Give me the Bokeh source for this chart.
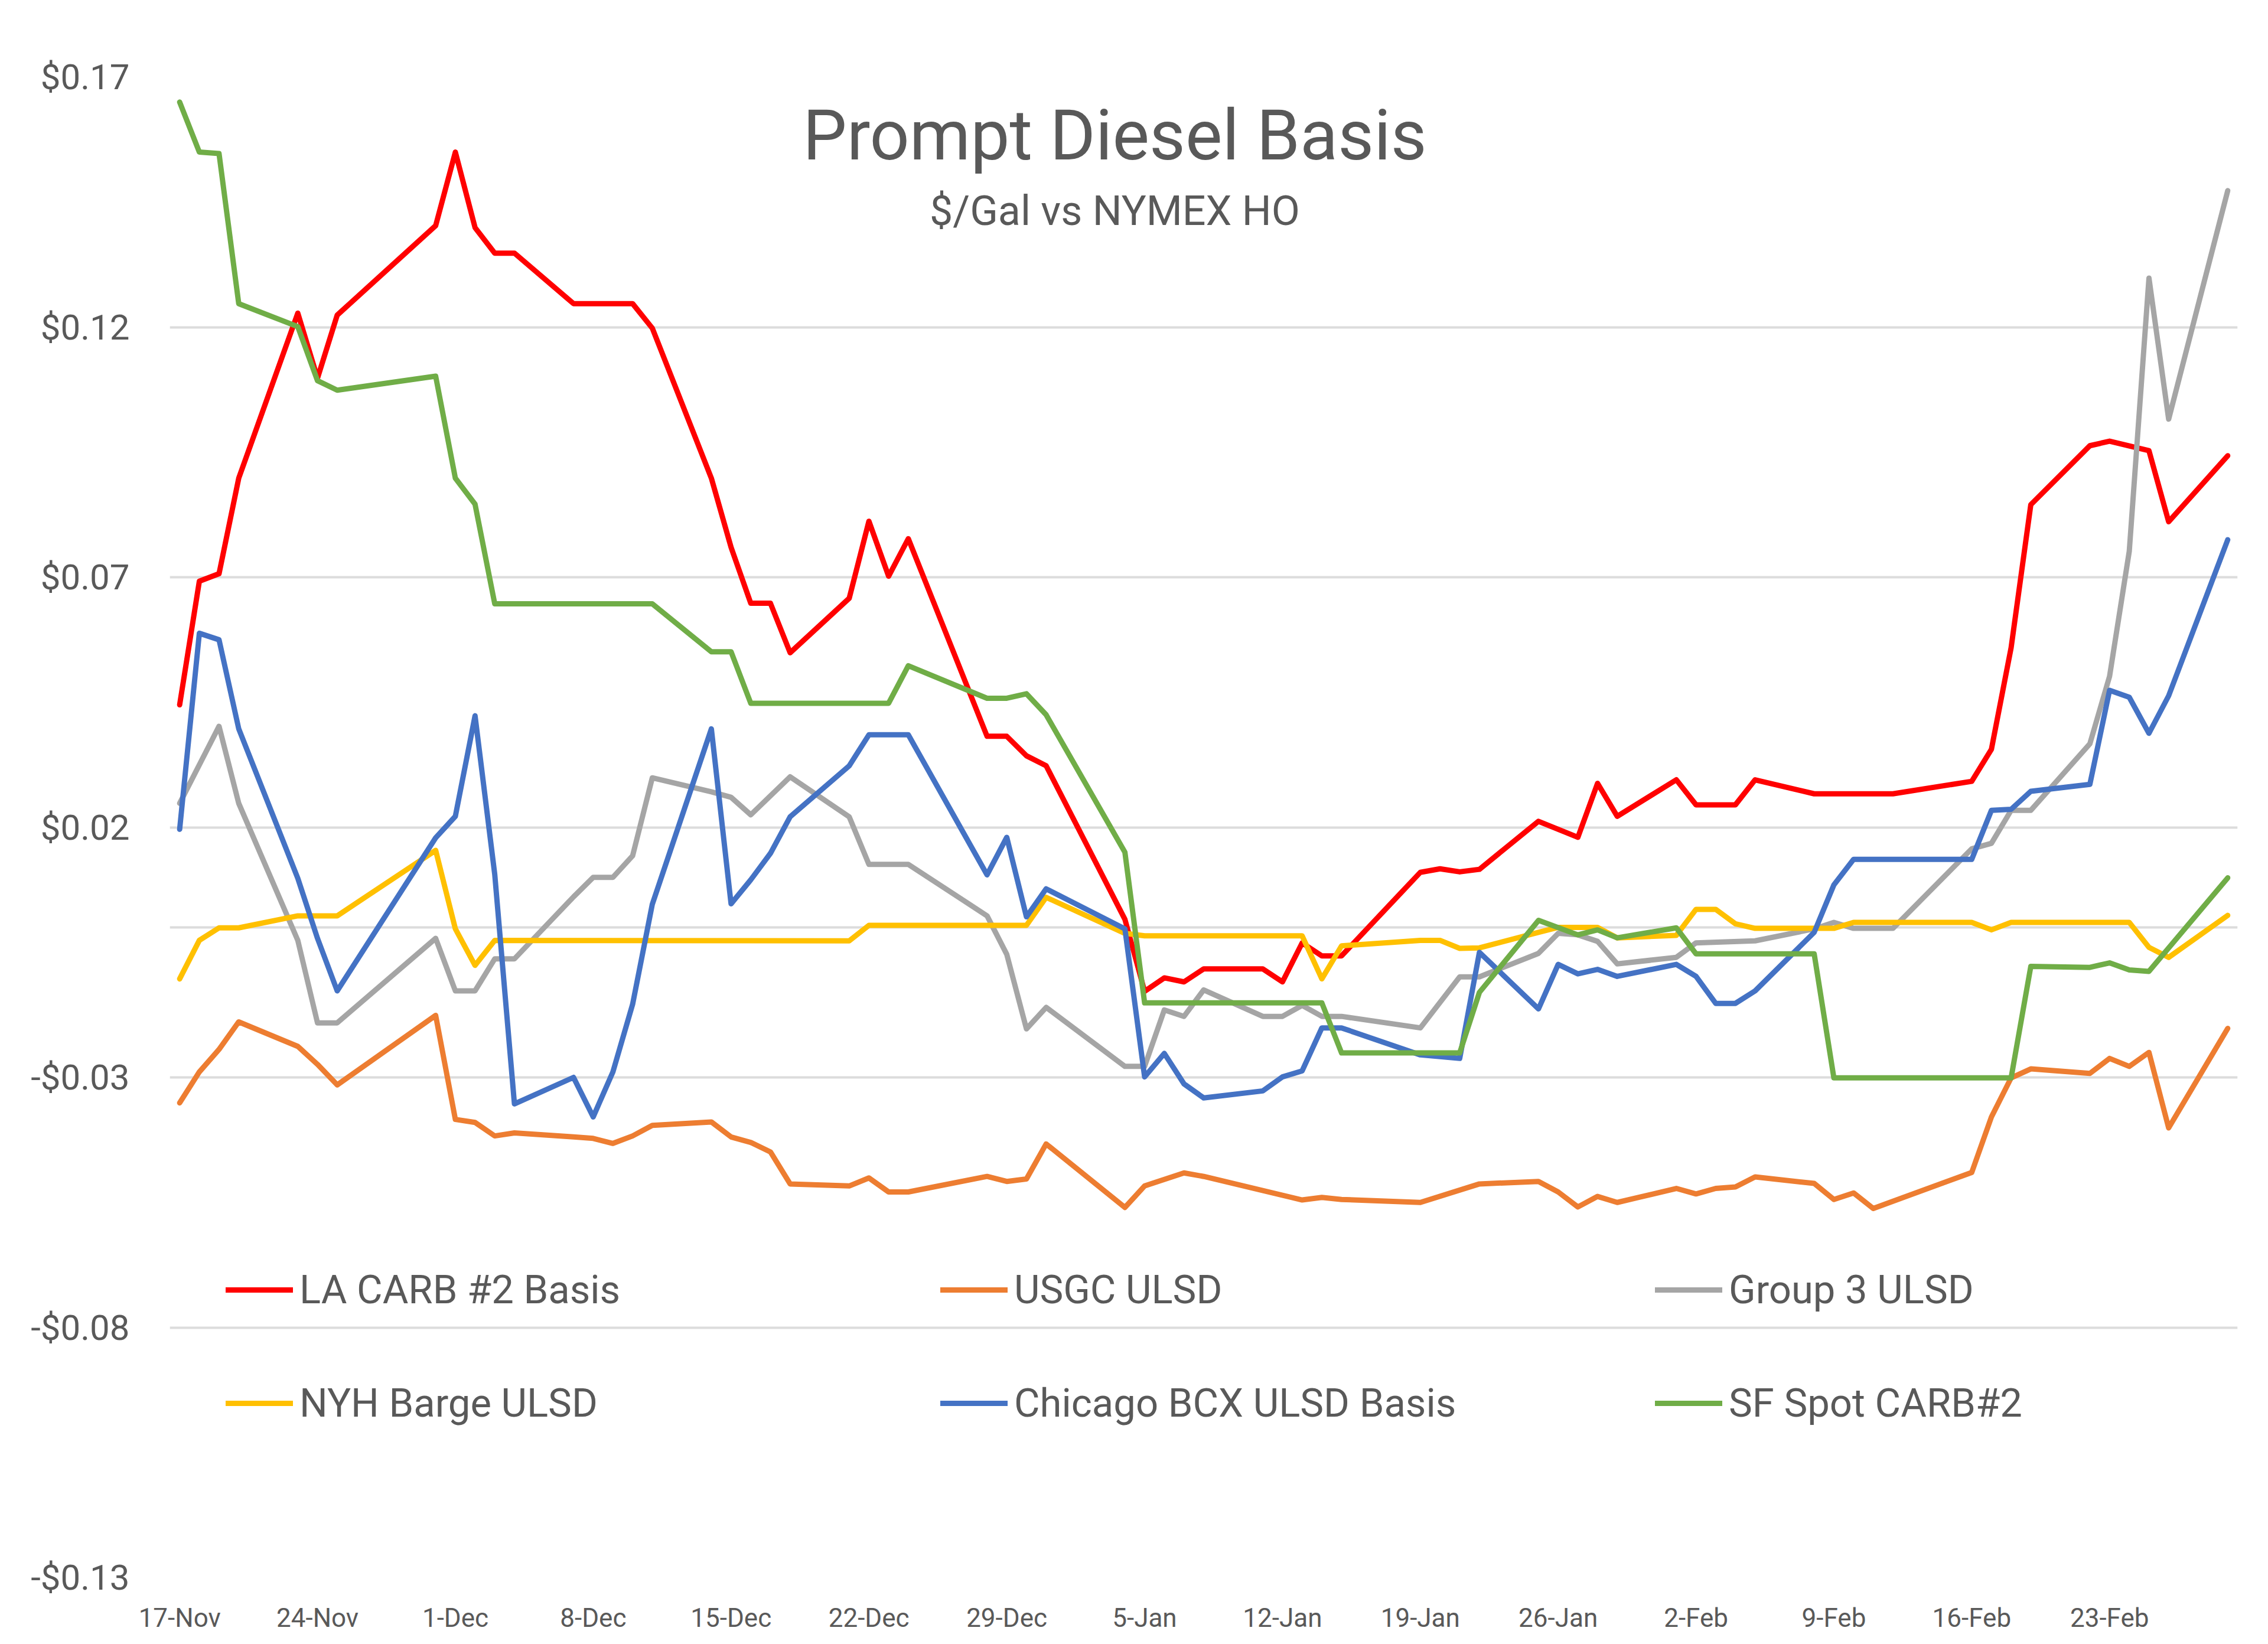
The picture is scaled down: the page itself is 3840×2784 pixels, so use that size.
import pandas as pd
from bokeh.plotting import figure
from bokeh.models import Range1d, FixedTicker, Legend, LegendItem, Label, Span
from bokeh.embed import file_html
from bokeh.resources import INLINE

# ---------------- data ----------------
start_date = "2020-11-17"

x_tick_dates = ["2020-11-17", "2020-11-24", "2020-12-01", "2020-12-08", "2020-12-15",
                "2020-12-22", "2020-12-29", "2021-01-05", "2021-01-12", "2021-01-19",
                "2021-01-26", "2021-02-02", "2021-02-09", "2021-02-16", "2021-02-23"]
x_tick_labels = ["17-Nov", "24-Nov", "1-Dec", "8-Dec", "15-Dec", "22-Dec", "29-Dec",
                 "5-Jan", "12-Jan", "19-Jan", "26-Jan", "2-Feb", "9-Feb", "16-Feb", "23-Feb"]
x_first_date = "2020-11-17"
x_last_date = "2021-03-01"

y_tick_values = [-0.13, -0.08, -0.03, 0.02, 0.07, 0.12, 0.17]
y_tick_labels = ["-$0.13", "-$0.08", "-$0.03", "$0.02", "$0.07", "$0.12", "$0.17"]

title_text = "Prompt Diesel Basis"
subtitle_text = "$/Gal vs NYMEX HO"

series_names = ["LA CARB #2 Basis", "USGC ULSD", "Group 3 ULSD",
                "NYH Barge ULSD", "Chicago BCX ULSD Basis", "SF Spot CARB#2"]
series_colors = ["#FF0000", "#ED7D31", "#A5A5A5", "#FFC000", "#4472C4", "#70AD47"]

la_carb = [
    ("2020-11-17", 0.0445), ("2020-11-18", 0.0692), ("2020-11-19", 0.0707), ("2020-11-20", 0.0898),
    ("2020-11-23", 0.1228), ("2020-11-24", 0.1098), ("2020-11-25", 0.1224), ("2020-11-30", 0.1403),
    ("2020-12-01", 0.1550), ("2020-12-02", 0.1399), ("2020-12-03", 0.1348), ("2020-12-04", 0.1348),
    ("2020-12-07", 0.1247), ("2020-12-10", 0.1247), ("2020-12-11", 0.1198), ("2020-12-14", 0.0898),
    ("2020-12-15", 0.0760), ("2020-12-16", 0.0648), ("2020-12-17", 0.0648), ("2020-12-18", 0.0549),
    ("2020-12-21", 0.0658), ("2020-12-22", 0.0812), ("2020-12-23", 0.0702), ("2020-12-24", 0.0777),
    ("2020-12-28", 0.0382), ("2020-12-29", 0.0382), ("2020-12-30", 0.0343), ("2020-12-31", 0.0323),
    ("2021-01-04", 0.0016), ("2021-01-05", -0.0128), ("2021-01-06", -0.0101), ("2021-01-07", -0.0109),
    ("2021-01-08", -0.0083), ("2021-01-11", -0.0083), ("2021-01-12", -0.0109), ("2021-01-13", -0.0031),
    ("2021-01-14", -0.0057), ("2021-01-15", -0.0057), ("2021-01-19", 0.0110), ("2021-01-20", 0.0117),
    ("2021-01-21", 0.0111), ("2021-01-22", 0.0116), ("2021-01-25", 0.0212), ("2021-01-27", 0.0180),
    ("2021-01-28", 0.0288), ("2021-01-29", 0.0222), ("2021-02-01", 0.0295), ("2021-02-02", 0.0245),
    ("2021-02-04", 0.0245), ("2021-02-05", 0.0295), ("2021-02-08", 0.0267), ("2021-02-12", 0.0267),
    ("2021-02-16", 0.0292), ("2021-02-17", 0.0356), ("2021-02-18", 0.0559), ("2021-02-19", 0.0845),
    ("2021-02-22", 0.0963), ("2021-02-23", 0.0972), ("2021-02-25", 0.0953), ("2021-02-26", 0.0811),
    ("2021-03-01", 0.0943),
]

usgc_ulsd = [
    ("2020-11-17", -0.0351), ("2020-11-18", -0.0289), ("2020-11-19", -0.0244), ("2020-11-20", -0.0189),
    ("2020-11-23", -0.0238), ("2020-11-24", -0.0274), ("2020-11-25", -0.0315), ("2020-11-30", -0.0176),
    ("2020-12-01", -0.0384), ("2020-12-02", -0.0390), ("2020-12-03", -0.0417), ("2020-12-04", -0.0411),
    ("2020-12-07", -0.0419), ("2020-12-08", -0.0422), ("2020-12-09", -0.0432), ("2020-12-10", -0.0417),
    ("2020-12-11", -0.0396), ("2020-12-14", -0.0389), ("2020-12-15", -0.0419), ("2020-12-16", -0.0430),
    ("2020-12-17", -0.0449), ("2020-12-18", -0.0513), ("2020-12-21", -0.0517), ("2020-12-22", -0.0501),
    ("2020-12-23", -0.0529), ("2020-12-24", -0.0529), ("2020-12-28", -0.0498), ("2020-12-29", -0.0508),
    ("2020-12-30", -0.0503), ("2020-12-31", -0.0433), ("2021-01-04", -0.0560), ("2021-01-05", -0.0517),
    ("2021-01-07", -0.0491), ("2021-01-08", -0.0498), ("2021-01-13", -0.0545), ("2021-01-14", -0.0540),
    ("2021-01-15", -0.0544), ("2021-01-19", -0.0550), ("2021-01-22", -0.0513), ("2021-01-25", -0.0508),
    ("2021-01-26", -0.0529), ("2021-01-27", -0.0559), ("2021-01-28", -0.0538), ("2021-01-29", -0.0550),
    ("2021-02-01", -0.0522), ("2021-02-02", -0.0533), ("2021-02-03", -0.0522), ("2021-02-04", -0.0519),
    ("2021-02-05", -0.0499), ("2021-02-08", -0.0512), ("2021-02-09", -0.0544), ("2021-02-10", -0.0531),
    ("2021-02-11", -0.0562), ("2021-02-16", -0.0490), ("2021-02-17", -0.0379), ("2021-02-18", -0.0301),
    ("2021-02-19", -0.0283), ("2021-02-22", -0.0292), ("2021-02-23", -0.0262), ("2021-02-24", -0.0278),
    ("2021-02-25", -0.0250), ("2021-02-26", -0.0401), ("2021-03-01", -0.0202),
]

group3_ulsd = [
    ("2020-11-17", 0.0248), ("2020-11-19", 0.0402), ("2020-11-20", 0.0248), ("2020-11-23", -0.0026),
    ("2020-11-24", -0.0191), ("2020-11-25", -0.0191), ("2020-11-30", -0.0022), ("2020-12-01", -0.0127),
    ("2020-12-02", -0.0127), ("2020-12-03", -0.0063), ("2020-12-04", -0.0063), ("2020-12-07", 0.0061),
    ("2020-12-08", 0.0100), ("2020-12-09", 0.0100), ("2020-12-10", 0.0143), ("2020-12-11", 0.0299),
    ("2020-12-14", 0.0271), ("2020-12-15", 0.0260), ("2020-12-16", 0.0225), ("2020-12-18", 0.0301),
    ("2020-12-21", 0.0221), ("2020-12-22", 0.0126), ("2020-12-24", 0.0126), ("2020-12-28", 0.0023),
    ("2020-12-29", -0.0054), ("2020-12-30", -0.0203), ("2020-12-31", -0.0160), ("2021-01-04", -0.0278),
    ("2021-01-05", -0.0278), ("2021-01-06", -0.0165), ("2021-01-07", -0.0178), ("2021-01-08", -0.0125),
    ("2021-01-11", -0.0178), ("2021-01-12", -0.0178), ("2021-01-13", -0.0156), ("2021-01-14", -0.0178),
    ("2021-01-15", -0.0178), ("2021-01-19", -0.0201), ("2021-01-21", -0.0099), ("2021-01-22", -0.0099),
    ("2021-01-25", -0.0052), ("2021-01-26", -0.0012), ("2021-01-27", -0.0015), ("2021-01-28", -0.0028),
    ("2021-01-29", -0.0073), ("2021-02-01", -0.0060), ("2021-02-02", -0.0031), ("2021-02-05", -0.0027),
    ("2021-02-08", -0.0003), ("2021-02-09", 0.0010), ("2021-02-10", -0.0002), ("2021-02-12", -0.0002),
    ("2021-02-16", 0.0157), ("2021-02-17", 0.0168), ("2021-02-18", 0.0234), ("2021-02-19", 0.0234),
    ("2021-02-22", 0.0367), ("2021-02-23", 0.0502), ("2021-02-24", 0.0752), ("2021-02-25", 0.1298),
    ("2021-02-26", 0.1016), ("2021-03-01", 0.1473),
]

nyh_barge_ulsd = [
    ("2020-11-17", -0.0103), ("2020-11-18", -0.0026), ("2020-11-19", -0.0001), ("2020-11-20", -0.0001),
    ("2020-11-23", 0.0023), ("2020-11-25", 0.0023), ("2020-11-30", 0.0154), ("2020-12-01", -0.0003),
    ("2020-12-02", -0.0076), ("2020-12-03", -0.0026), ("2020-12-21", -0.0027), ("2020-12-22", 0.0004),
    ("2020-12-30", 0.0004), ("2020-12-31", 0.0060), ("2021-01-04", -0.0012), ("2021-01-05", -0.0017),
    ("2021-01-13", -0.0017), ("2021-01-14", -0.0103), ("2021-01-15", -0.0037), ("2021-01-19", -0.0026),
    ("2021-01-20", -0.0026), ("2021-01-21", -0.0042), ("2021-01-22", -0.0041), ("2021-01-25", -0.0010),
    ("2021-01-26", 0.0000), ("2021-01-28", 0.0000), ("2021-01-29", -0.0021), ("2021-02-01", -0.0016),
    ("2021-02-02", 0.0036), ("2021-02-03", 0.0036), ("2021-02-04", 0.0007), ("2021-02-05", -0.0002),
    ("2021-02-09", -0.0002), ("2021-02-10", 0.0010), ("2021-02-16", 0.0010), ("2021-02-17", -0.0005),
    ("2021-02-18", 0.0010), ("2021-02-24", 0.0010), ("2021-02-25", -0.0040), ("2021-02-26", -0.0060),
    ("2021-03-01", 0.0024),
]

chicago_bcx = [
    ("2020-11-17", 0.0196), ("2020-11-18", 0.0588), ("2020-11-19", 0.0575), ("2020-11-20", 0.0397),
    ("2020-11-23", 0.0098), ("2020-11-24", -0.0022), ("2020-11-25", -0.0127), ("2020-11-30", 0.0179),
    ("2020-12-01", 0.0222), ("2020-12-02", 0.0423), ("2020-12-03", 0.0106), ("2020-12-04", -0.0353),
    ("2020-12-07", -0.0300), ("2020-12-08", -0.0379), ("2020-12-09", -0.0289), ("2020-12-10", -0.0154),
    ("2020-12-11", 0.0046), ("2020-12-14", 0.0397), ("2020-12-15", 0.0047), ("2020-12-16", 0.0095),
    ("2020-12-17", 0.0148), ("2020-12-18", 0.0221), ("2020-12-21", 0.0323), ("2020-12-22", 0.0385),
    ("2020-12-24", 0.0385), ("2020-12-28", 0.0105), ("2020-12-29", 0.0180), ("2020-12-30", 0.0021),
    ("2020-12-31", 0.0077), ("2021-01-04", -0.0003), ("2021-01-05", -0.0299), ("2021-01-06", -0.0252),
    ("2021-01-07", -0.0313), ("2021-01-08", -0.0341), ("2021-01-11", -0.0327), ("2021-01-12", -0.0299),
    ("2021-01-13", -0.0287), ("2021-01-14", -0.0201), ("2021-01-15", -0.0201), ("2021-01-19", -0.0255),
    ("2021-01-21", -0.0262), ("2021-01-22", -0.0050), ("2021-01-25", -0.0163), ("2021-01-26", -0.0074),
    ("2021-01-27", -0.0093), ("2021-01-28", -0.0084), ("2021-01-29", -0.0098), ("2021-02-01", -0.0074),
    ("2021-02-02", -0.0098), ("2021-02-03", -0.0152), ("2021-02-04", -0.0152), ("2021-02-05", -0.0127),
    ("2021-02-08", -0.0010), ("2021-02-09", 0.0085), ("2021-02-10", 0.0136), ("2021-02-16", 0.0136),
    ("2021-02-17", 0.0234), ("2021-02-18", 0.0236), ("2021-02-19", 0.0272), ("2021-02-22", 0.0286),
    ("2021-02-23", 0.0474), ("2021-02-24", 0.0460), ("2021-02-25", 0.0388), ("2021-02-26", 0.0463),
    ("2021-03-01", 0.0775),
]

sf_spot_carb = [
    ("2020-11-17", 0.1650), ("2020-11-18", 0.1550), ("2020-11-19", 0.1547), ("2020-11-20", 0.1247),
    ("2020-11-23", 0.1201), ("2020-11-24", 0.1093), ("2020-11-25", 0.1074), ("2020-11-30", 0.1102),
    ("2020-12-01", 0.0898), ("2020-12-02", 0.0846), ("2020-12-03", 0.0647), ("2020-12-11", 0.0647),
    ("2020-12-14", 0.0551), ("2020-12-15", 0.0551), ("2020-12-16", 0.0448), ("2020-12-23", 0.0448),
    ("2020-12-24", 0.0523), ("2020-12-28", 0.0458), ("2020-12-29", 0.0458), ("2020-12-30", 0.0467),
    ("2020-12-31", 0.0425), ("2021-01-04", 0.0150), ("2021-01-05", -0.0151), ("2021-01-14", -0.0151),
    ("2021-01-15", -0.0251), ("2021-01-21", -0.0251), ("2021-01-22", -0.0130), ("2021-01-25", 0.0014),
    ("2021-01-27", -0.0015), ("2021-01-28", -0.0005), ("2021-01-29", -0.0021), ("2021-02-01", -0.0001),
    ("2021-02-02", -0.0053), ("2021-02-08", -0.0053), ("2021-02-09", -0.0301), ("2021-02-18", -0.0301),
    ("2021-02-19", -0.0078), ("2021-02-22", -0.0080), ("2021-02-23", -0.0071), ("2021-02-24", -0.0085),
    ("2021-02-25", -0.0088), ("2021-03-01", 0.0099),
]

all_series = [la_carb, usgc_ulsd, group3_ulsd, nyh_barge_ulsd, chicago_bcx, sf_spot_carb]

# ---------------- helpers ----------------
t0 = pd.Timestamp(start_date)


def day_of(d):
    return (pd.Timestamp(d) - t0).days


TEXT = "#595959"
GRID = "#DCDCDC"
FONT = "Roboto"

x_start = day_of(x_first_date) - 0.5
x_end = day_of(x_last_date) + 0.5

p = figure(width=3824, height=2768, output_backend="svg", toolbar_location=None,
           title=None,
           x_range=Range1d(x_start, x_end),
           y_range=Range1d(y_tick_values[0], y_tick_values[-1]),
           min_border_left=287, min_border_right=36,
           min_border_top=130, min_border_bottom=83)

p.background_fill_color = "white"
p.border_fill_color = "white"
p.outline_line_color = None

# grid
p.xgrid.grid_line_color = None
p.ygrid.grid_line_color = GRID
p.ygrid.grid_line_width = 4

# y axis
p.yaxis.ticker = FixedTicker(ticks=y_tick_values)
p.yaxis.major_label_overrides = {v: s for v, s in zip(y_tick_values, y_tick_labels)}
p.yaxis.axis_line_color = None
p.yaxis.major_tick_line_color = None
p.yaxis.minor_tick_line_color = None
p.yaxis.major_label_standoff = 62
p.yaxis.major_label_text_font = FONT
p.yaxis.major_label_text_font_size = "60px"
p.yaxis.major_label_text_color = TEXT

# x axis
x_ticks = [day_of(d) for d in x_tick_dates]
p.xaxis.ticker = FixedTicker(ticks=x_ticks)
p.xaxis.major_label_overrides = {t: s for t, s in zip(x_ticks, x_tick_labels)}
p.xaxis.axis_line_color = None
p.xaxis.major_tick_line_color = None
p.xaxis.minor_tick_line_color = None
p.xaxis.major_label_standoff = 36
p.xaxis.major_label_text_font = FONT
p.xaxis.major_label_text_font_size = "44px"
p.xaxis.major_label_text_color = TEXT

# horizontal category axis line at zero
p.add_layout(Span(location=0, dimension="width", line_color=GRID, line_width=4, level="underlay"))

# series
renderers = []
for data, name, color in zip(all_series, series_names, series_colors):
    xs = [day_of(d) for d, _ in data]
    ys = [v for _, v in data]
    r = p.line(xs, ys, line_color=color, line_width=9, line_join="round", line_cap="round")
    renderers.append(r)

# title & subtitle (inside plot area, like Excel)
title_x = x_start + 0.457 * (x_end - x_start)
p.add_layout(Label(x=title_x, y=0.1582, text=title_text, text_align="center",
                   text_baseline="alphabetic", text_font=FONT, text_font_size="118px",
                   text_color=TEXT))
p.add_layout(Label(x=title_x, y=0.1432, text=subtitle_text, text_align="center",
                   text_baseline="alphabetic", text_font=FONT, text_font_size="70px",
                   text_color=TEXT))

# legend: three columns of two rows
legend_cols = [(0, 3, 95), (1, 4, 1305), (2, 5, 2515)]
for i_top, i_bot, xpos in legend_cols:
    lg = Legend(items=[LegendItem(label=series_names[i_top], renderers=[renderers[i_top]]),
                       LegendItem(label=series_names[i_bot], renderers=[renderers[i_bot]])],
                location=(xpos, 255), orientation="vertical",
                glyph_width=114, glyph_height=80, label_height=80, label_standoff=11,
                spacing=112, padding=0, margin=0,
                label_text_font=FONT, label_text_font_size="67px", label_text_color=TEXT,
                background_fill_alpha=0, border_line_color=None)
    p.add_layout(lg)

open("out.html", "w").write(file_html(p, INLINE))
